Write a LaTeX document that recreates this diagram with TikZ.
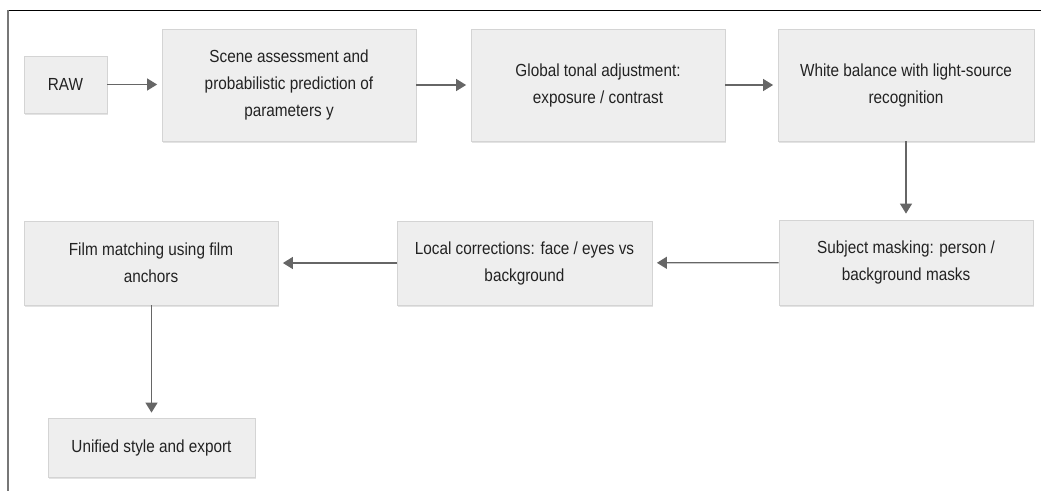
\documentclass[tikz,border=0pt]{standalone}
\usepackage{fontspec}
\setmainfont[FakeStretch=0.875]{Liberation Sans}
\usetikzlibrary{shadows,arrows.meta}
\definecolor{boxfill}{HTML}{EEEEEE}
\definecolor{boxline}{HTML}{D4D4D4}
\definecolor{arrowgray}{HTML}{666666}
\definecolor{textgray}{HTML}{222222}
\definecolor{framegray}{HTML}{777777}

\begin{document}
\begin{tikzpicture}[x=1pt,y=-1pt,
  stage/.style={draw=boxline, fill=boxfill, line width=0.8pt,
    drop shadow={shadow xshift=0.8pt, shadow yshift=-1.6pt, opacity=0.22},
    text=textgray, font=\fontsize{17.5}{27}\selectfont, align=center, inner sep=0pt},
  flow/.style={draw=arrowgray, line width=1.3pt, shorten >=4.5pt,
    -{Triangle[length=10pt,width=12pt]}}
]
\useasboundingbox (0,0) rectangle (1041,491);

% page frame
\draw[black, line width=1pt] (7,10) -- (1041,10);
\draw[framegray, line width=2pt] (7.5,10) -- (7.5,491);

% pipeline stages
\node[stage, minimum width=83pt, minimum height=57pt] (raw) at (65.5,84.5) {RAW};
\node[stage, minimum width=254pt, minimum height=112pt] (scene) at (289,85)
  {Scene assessment and\\probabilistic prediction of\\parameters y};
\node[stage, minimum width=254pt, minimum height=112pt] (tonal) at (598,85)
  {Global tonal adjustment:\\exposure / contrast};
\node[stage, minimum width=256pt, minimum height=112pt] (wb) at (906,85)
  {White balance with light-source\\recognition};
\node[stage, minimum width=254pt, minimum height=85pt] (mask) at (906,262.5)
  {Subject masking: person /\\background masks};
\node[stage, minimum width=255pt, minimum height=84pt] (local) at (524.5,263)
  {Local corrections: face / eyes vs\\background};
\node[stage, minimum width=254pt, minimum height=84pt] (film) at (151,263)
  {Film matching using film\\anchors};
\node[stage, minimum width=207pt, minimum height=59pt] (export) at (151.5,447.5)
  {Unified style and export};

% connectors
\draw[flow] (raw.east) -- (raw.east -| scene.west);
\draw[flow] (scene) -- (tonal);
\draw[flow] (tonal) -- (wb);
\draw[flow, shorten >=6pt] (wb) -- (mask);
\draw[flow] (mask) -- (local);
\draw[flow] (local) -- (film);
\draw[flow, shorten >=5pt] (film.south -| export.north) -- (export.north);
\end{tikzpicture}
\end{document}
